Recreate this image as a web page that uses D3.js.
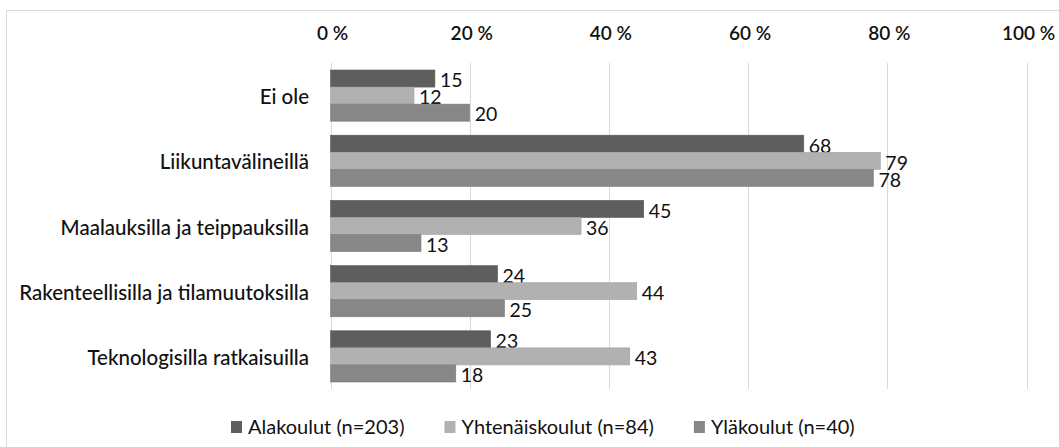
<!DOCTYPE html>
<html><head><meta charset="utf-8">
<script src="https://cdn.jsdelivr.net/npm/d3@7"></script>
<style>body{margin:0;background:#fff}svg{display:block}text{font-family:Lato,"Open Sans",sans-serif;fill:#111}</style>
</head><body><svg id="c" width="1059" height="447"></svg>
<script>
const categories = ["Ei ole","Liikuntavälineillä","Maalauksilla ja teippauksilla","Rakenteellisilla ja tilamuutoksilla","Teknologisilla ratkaisuilla"];
const seriesNames = ["Alakoulut (n=203)","Yhtenäiskoulut (n=84)","Yläkoulut (n=40)"];
const alakoulut = [15,68,45,24,23];
const yhtenais = [12,79,36,44,43];
const ylakoulut = [20,78,13,25,18];
const tickValues = [0,20,40,60,80,100];
const colors = ["#5e5e5e","#b1b1b1","#878787"];
const series = [alakoulut, yhtenais, ylakoulut];
const FONT = "Lato,'Open Sans',sans-serif";

const svg = d3.select("#c");
svg.append("rect").attr("x",6.5).attr("y",10.5).attr("width",1100).attr("height",500).attr("fill","none").attr("stroke","#d9d9d9");

const x = d3.scaleLinear().domain([0,100]).range([330.5,1026.5]);
const y = d3.scaleBand().domain(categories).range([63,389]);
const inner = d3.scaleBand().domain([0,1,2]).range([0,y.bandwidth()]).paddingOuter(0.41).paddingInner(0);

const grid = svg.append("g");
grid.selectAll("line").data(tickValues).join("line")
  .attr("x1",d=>Math.round(x(d))+0.5).attr("x2",d=>Math.round(x(d))+0.5)
  .attr("y1",63).attr("y2",389).attr("stroke","#d9d9d9").attr("stroke-width",1);

const ax = svg.append("g").attr("transform","translate(1.5,40)")
  .call(d3.axisTop(x).tickValues(tickValues).tickFormat(d=>d+" %").tickSize(0).tickPadding(0));
ax.select(".domain").remove();
ax.selectAll("text").attr("font-size",19).attr("font-weight",600).attr("dy",0).style("font-family",FONT).attr("fill","#111");

const ay = svg.append("g").attr("transform","translate(309,2)")
  .call(d3.axisLeft(y).tickSize(0).tickPadding(0));
ay.select(".domain").remove();
ay.selectAll("text").attr("font-size",20.5).attr("font-weight",500).style("font-family",FONT).attr("fill","#111");

series.forEach((vals,si)=>{
  const g = svg.append("g");
  g.selectAll("rect").data(vals).join("rect")
    .attr("x",x(0)).attr("y",(d,i)=>y(categories[i])+inner(si))
    .attr("width",d=>x(d)-x(0)).attr("height",inner.bandwidth())
    .attr("fill",colors[si]).attr("stroke",d3.color(colors[si]).darker(0.2)).attr("stroke-width",0.6);
  g.selectAll("text").data(vals).join("text")
    .attr("x",d=>x(d)+5).attr("y",(d,i)=>y(categories[i])+inner(si)+inner.bandwidth()/2+2)
    .attr("dy","0.35em").attr("font-size",19.5).text(d=>d);
});

const lg = svg.append("g");
let lx = 231;
seriesNames.forEach((n,i)=>{
  lg.append("rect").attr("x",lx).attr("y",421).attr("width",11).attr("height",12).attr("fill",colors[i]);
  const t = lg.append("text").attr("x",lx+17).attr("y",427).attr("dy","0.35em").attr("font-size",20).text(n);
  lx = lx + 17 + t.node().getComputedTextLength() + 40;
});
</script></body></html>
